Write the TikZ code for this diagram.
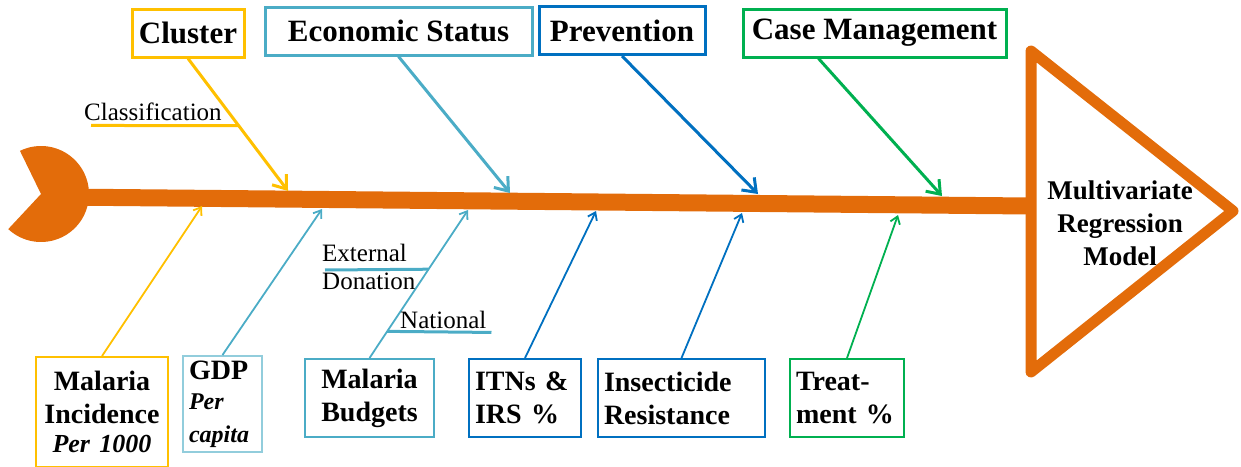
\documentclass[tikz,border=0pt]{standalone}
\usepackage{fontspec}
\setmainfont{Liberation Serif}
\usetikzlibrary{arrows.meta,calc}
\definecolor{spinecol}{HTML}{E36C0A}
\definecolor{clustercol}{HTML}{FFC000}
\definecolor{econcol}{HTML}{4BACC6}
\definecolor{gdpcol}{HTML}{92CDDC}
\definecolor{prevcol}{HTML}{0070C0}
\definecolor{casecol}{HTML}{00B050}

\begin{document}
\begin{tikzpicture}[x=1pt,y=-1pt,
  cause/.style={draw=#1,line width=3pt,fill=white,inner sep=0pt,minimum height=48pt,
    font=\fontsize{31}{36}\selectfont\bfseries},
  factor/.style={draw=#1,line width=2pt,fill=white,inner xsep=6pt,inner ysep=0pt,
    font=\fontsize{28}{33}\selectfont\bfseries},
  subcause/.style={inner sep=0pt,font=\fontsize{25}{28}\selectfont},
  bone/.style={draw=#1,line width=3pt,-{Straight Barb[length=12pt,width=18pt]}},
  rib/.style={draw=#1,line width=1.8pt,-{Straight Barb[length=7pt,width=10pt]}},
  under/.style={draw=#1,line width=3pt}]
\useasboundingbox (0,0) rectangle (1241,466);

% fish: spine, head and tail
\coordinate (tail) at (60,197);
\coordinate (nose) at (1030,206);
\draw[spinecol,line width=17pt] (tail) -- (nose);
\fill[spinecol] (41,194) -- plot[domain=244:493,samples=80] ({41+48*cos(\x)},{194+48*sin(\x)}) -- cycle;
\draw[spinecol,line width=11pt,line join=round,fill=white] (1031,51) -- (1233,211) -- (1031,372) -- cycle;
\node[align=center,font=\fontsize{27}{33}\selectfont\bfseries] (model) at (1120,223) {Multivariate\\Regression\\Model};

% main causes
\node[cause=clustercol,minimum width=112pt] (cluster) at (188,33) {Cluster};
\node[cause=econcol,minimum width=267pt] (econ) at (398.5,31) {Economic Status};
\node[cause=prevcol,minimum width=166pt] (prev) at (622,30.5) {Prevention};
\node[cause=casecol,minimum width=263pt] (casem) at (874.5,33) {Case Management};

\coordinate (c1) at (288,191);
\coordinate (c2) at (510,193);
\coordinate (c3) at (758,194);
\coordinate (c4) at (942,196);
\draw[bone=clustercol] (cluster.south) -- (c1);
\draw[bone=econcol] (econ.south) -- (c2);
\draw[bone=prevcol] (prev.south) -- (c3);
\draw[bone=casecol] ([xshift=-56pt]casem.south) -- (c4);

% factors below the spine
\node[factor=clustercol,anchor=north,minimum width=132pt,minimum height=110pt,text width=120pt,align=center] (inc) at (102,356)
  {Malaria\\Incidence\\[-4pt] \fontsize{26}{33}\selectfont\itshape Per 1000};
\node[factor=gdpcol,minimum width=79pt,minimum height=96pt,text width=67pt,align=left] (gdp) at (222.5,404)
  {GDP\\[5pt] \fontsize{24}{25}\selectfont\itshape Per\\capita};
\node[factor=econcol,minimum width=129pt,minimum height=78pt,text width=117pt,align=center] (bud) at (369.5,398) {Malaria\\Budgets};
\node[factor=prevcol,minimum width=112pt,minimum height=78pt,text width=100pt,align=left] (itn) at (525,398) {ITNs \&\\IRS \%};
\node[factor=prevcol,minimum width=167pt,minimum height=78pt,text width=155pt,align=left] (ins) at (681.5,398) {Insecticide\\Resistance};
\node[factor=casecol,minimum width=114pt,minimum height=78pt,text width=102pt,align=left] (trt) at (847,398) {Treat-\\ment \%};

\coordinate (r1) at (202,206);
\coordinate (r2) at (322,209);
\coordinate (r3) at (468,210);
\coordinate (r4) at (596,211);
\coordinate (r5) at (742,213);
\coordinate (r6) at (898,215);
\draw[rib=clustercol] (inc.north) -- (r1);
\draw[rib=econcol] (gdp.north) -- (r2);
\draw[rib=econcol] (bud.north) -- (r3);
\draw[rib=prevcol] (itn.north) -- (r4);
\draw[rib=prevcol] (ins.north) -- (r5);
\draw[rib=casecol] (trt.north) -- (r6);

% sub-causes
\node[subcause,anchor=base west] (cls) at (84,120) {Classification};
\draw[under=clustercol] ($(cls.south west)+(7,5)$) -- ($(cluster.south)!0.507!(c1)$);
\node[subcause,align=left,anchor=north west] (ext) at (322,244) {External\\Donation};
\draw[under=econcol] ($(ext.west)+(3,3)$) -- ($(bud.north)!0.6!(r3)$);
\node[subcause,anchor=base west] (nat) at (400,328) {National};
\draw[under=econcol] ($(bud.north)!0.18!(r3)$) -- ($(nat.south east)+(5,4)$);
\end{tikzpicture}
\end{document}
